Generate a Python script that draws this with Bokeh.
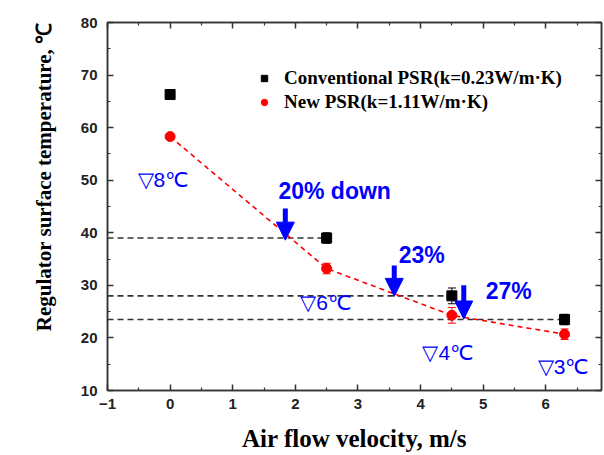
from bokeh.plotting import figure
from bokeh.models import (Range1d, LinearAxis, FixedTicker, Legend, LegendItem, Title,
                          ColumnDataSource, Whisker, TeeHead, Arrow, NormalHead,
                          CustomLabelingPolicy)
from bokeh.core.properties import value
from bokeh.embed import file_html
from bokeh.resources import INLINE

# ---- data ----
velocity = [0.0, 2.5, 4.5, 6.3]
conventional = [66.3, 39.0, 28.0, 23.5]
conventional_err = [0.5, 1.0, 1.5, 1.0]
new_psr = [58.3, 33.2, 24.3, 20.7]
new_err = [0.5, 1.0, 1.5, 1.0]

x_ticks = [-1, 0, 1, 2, 3, 4, 5, 6, 7]
y_ticks = [10, 20, 30, 40, 50, 60, 70, 80]

# reduction arrows (x, from, to) and texts
arrow_x = [1.84, 3.58, 4.69]
arrow_y0 = [44.6, 33.8, 30.0]
arrow_y1 = [38.6, 27.9, 23.6]
pct_text = ["20% down", "23%", "27%"]
pct_x = [1.73, 3.65, 5.04]
pct_y = [48.0, 35.7, 29.0]

diff_text = ["\u25bd8\u2103", "\u25bd6\u2103", "\u25bd4\u2103", "\u25bd3\u2103"]
diff_x = [-0.52, 2.08, 4.03, 5.87]
diff_y = [50.1, 26.8, 17.2, 14.6]

AXC = "#333333"

p = figure(frame_width=494, frame_height=368, output_backend="svg", toolbar_location=None,
           x_range=Range1d(-1, 6.89), y_range=Range1d(10, 80),
           x_axis_location=None, y_axis_location=None,
           min_border_left=107, min_border_right=0, min_border_top=22,
           min_border_bottom=62)
p.background_fill_color = "white"
p.border_fill_color = "white"
p.grid.visible = False
p.outline_line_color = AXC
p.outline_line_width = 1.5

hide_all = CustomLabelingPolicy(code="""
for (const i of Array.from(indices)) { indices.unset(i) }
return indices
""")

def style_axis(ax, labels=True):
    ax.axis_line_color = AXC
    ax.axis_line_width = 1.5
    ax.major_tick_line_color = AXC
    ax.minor_tick_line_color = AXC
    ax.major_tick_line_width = 1.5
    ax.minor_tick_line_width = 1.2
    ax.major_tick_in = 6
    ax.major_tick_out = 0
    ax.minor_tick_in = 3
    ax.minor_tick_out = 0
    ax.major_label_text_font = "Liberation Sans"
    ax.major_label_text_font_style = "bold"
    ax.major_label_text_font_size = "15px"
    ax.major_label_text_color = "#222222"
    if not labels:
        ax.major_label_policy = hide_all
        ax.major_label_standoff = 0

xt = FixedTicker(ticks=x_ticks, minor_ticks=[t + 0.5 for t in x_ticks])
yt = FixedTicker(ticks=y_ticks, minor_ticks=[t + 5 for t in y_ticks])

xb = LinearAxis(ticker=xt, axis_label="Air flow velocity, m/s")
style_axis(xb)
xb.major_label_standoff = 8
xb.axis_label_text_font = "Liberation Serif"
xb.axis_label_text_font_style = "bold"
xb.axis_label_text_font_size = "25px"
xb.axis_label_text_color = "black"
xb.axis_label_standoff = 13
p.add_layout(xb, "below")

yl = LinearAxis(ticker=yt)
style_axis(yl)
yl.major_label_standoff = 10
p.add_layout(yl, "left")

# y-axis title as a side title, aligned toward the top like the reference
p.add_layout(Title(text="Regulator surface temperature, \u2103", align="right",
                   standoff=44, text_font="Liberation Serif", text_font_style="bold",
                   text_font_size="21px", text_color="black"), "left")

xtop = LinearAxis(ticker=xt)
style_axis(xtop, labels=False)
p.add_layout(xtop, "above")
yr = LinearAxis(ticker=yt)
style_axis(yr, labels=False)
p.add_layout(yr, "right")

# dashed reference lines at conventional values
p.segment(x0=[-1] * 3, y0=conventional[1:], x1=velocity[1:], y1=conventional[1:],
          line_color="#333333", line_dash="6 4", line_width=1.6)

# red dashed line through new PSR points
p.line(velocity, new_psr, line_color="red", line_dash="5 4", line_width=1.6)

# error bars
src_c = ColumnDataSource(dict(x=velocity,
                              up=[v + e for v, e in zip(conventional, conventional_err)],
                              lo=[v - e for v, e in zip(conventional, conventional_err)]))
src_n = ColumnDataSource(dict(x=velocity,
                              up=[v + e for v, e in zip(new_psr, new_err)],
                              lo=[v - e for v, e in zip(new_psr, new_err)]))
p.add_layout(Whisker(source=src_c, base="x", upper="up", lower="lo", line_color="black",
                     upper_head=TeeHead(size=8, line_color="black"),
                     lower_head=TeeHead(size=8, line_color="black"), level="underlay"))
p.add_layout(Whisker(source=src_n, base="x", upper="up", lower="lo", line_color="red",
                     upper_head=TeeHead(size=8, line_color="red"),
                     lower_head=TeeHead(size=8, line_color="red"), level="underlay"))

r1 = p.scatter(velocity, conventional, marker="square", size=10, color="black")
r2 = p.scatter(velocity, new_psr, marker="circle", size=10, color="red")

legend = Legend(items=[LegendItem(label="Conventional PSR(k=0.23W/m\u00b7K)", renderers=[r1]),
                       LegendItem(label="New PSR(k=1.11W/m\u00b7K)", renderers=[r2])],
                location=(149, 277), padding=0, margin=0, glyph_width=16, glyph_height=16,
                label_standoff=12, spacing=2, label_height=16,
                background_fill_alpha=0, border_line_color=None,
                label_text_font="Liberation Serif", label_text_font_style="bold",
                label_text_font_size="19px", label_text_color="black")
p.add_layout(legend)

# arrows
asrc = ColumnDataSource(dict(x0=arrow_x, y0=arrow_y0, x1=arrow_x, y1=arrow_y1))
p.add_layout(Arrow(source=asrc, x_start="x0", y_start="y0", x_end="x1", y_end="y1",
                   line_color="blue", line_width=5,
                   end=NormalHead(size=18, fill_color="blue", line_color="blue")))

p.text(x=pct_x, y=pct_y, text=pct_text, text_font=value("Liberation Sans"),
       text_font_style="bold", text_font_size="23px", text_color="blue",
       text_baseline="middle", text_align="left")
p.text(x=diff_x, y=diff_y, text=diff_text, text_font=value("Liberation Sans"),
       text_font_size="21px", text_color="blue",
       text_baseline="middle", text_align="left")

open("out.html", "w").write(file_html(p, INLINE))
